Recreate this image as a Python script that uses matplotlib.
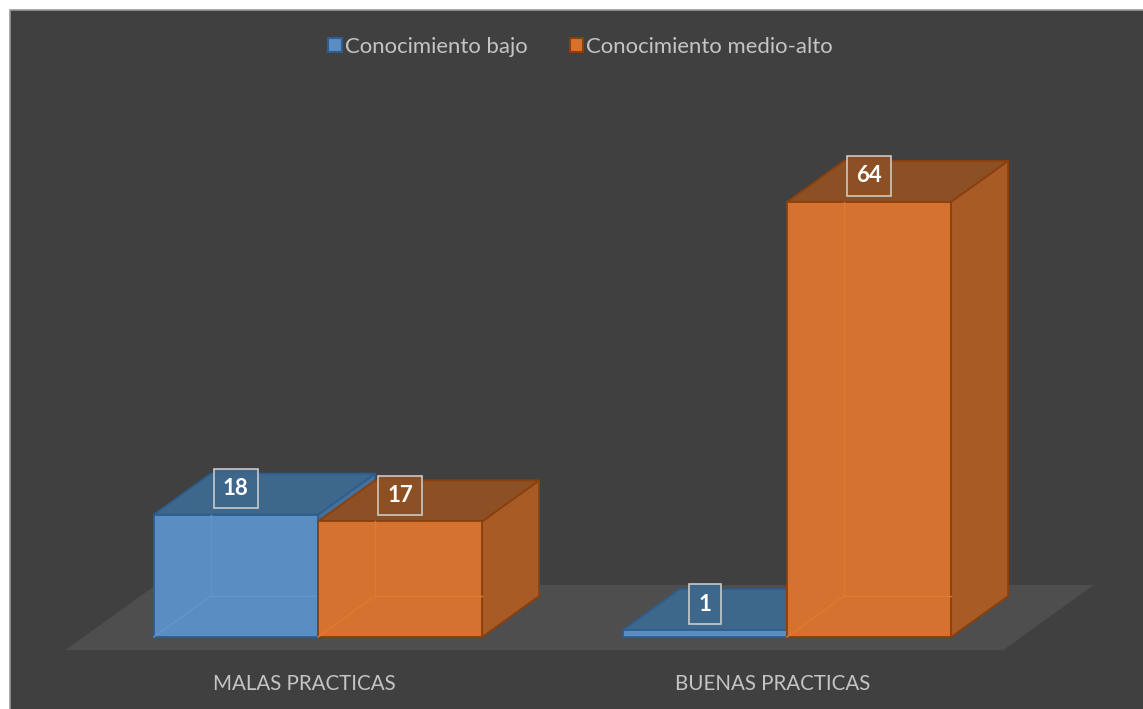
import matplotlib.pyplot as plt
from matplotlib.patches import Polygon, Rectangle, Patch

categories = ['MALAS PRACTICAS', 'BUENAS PRACTICAS']
series = ['Conocimiento bajo', 'Conocimiento medio-alto']
bajo = [18, 1]
medio_alto = [17, 64]
values = [bajo, medio_alto]

# estilo (colores de cara frontal, superior, lateral y borde)
front = ['#5a8dc1', '#d5722f']
top = ['#3e678c', '#8d4f24']
side = ['#46709a', '#a95b26']
edge = ['#2d5e8e', '#8a3f0d']
bg = '#404040'
floor_c = '#4e4e4e'
txt_c = '#c4c4c4'

plt.rcParams['font.family'] = ['Lato', 'DejaVu Sans']

fig = plt.figure(figsize=(11.43, 7.09), dpi=100)
fig.patch.set_facecolor('white')
fig.patches.append(Rectangle((10 / 1143, -0.05), 1.1, 699 / 709 + 0.05, transform=fig.transFigure,
                             facecolor=bg, edgecolor='#9a9a9a', lw=1.2, zorder=-5))

ax = fig.add_axes([0, 0, 1, 1])
ax.set_facecolor('none')
ax.axis('off')
ax.set_xlim(-318 / 469, 825 / 469)
ax.set_ylim(-72 / 6.8, 637 / 6.8)

bw = 0.35          # ancho de barra
ddx, ddy = 57 / 469, 41 / 6.8   # vector de profundidad

# piso
f0, f1 = -0.32, 1.27
fx0, fx1 = -0.5, 1.5
ax.add_patch(Polygon([(fx0 + f0 * ddx, f0 * ddy), (fx1 + f0 * ddx, f0 * ddy),
                      (fx1 + f1 * ddx, f1 * ddy), (fx0 + f1 * ddx, f1 * ddy)],
                     closed=True, facecolor=floor_c, edgecolor='none', zorder=1))


def bar3d(x0, h, k, z):
    x1 = x0 + bw
    ax.add_patch(Polygon([(x1, 0), (x1 + ddx, ddy), (x1 + ddx, h + ddy), (x1, h)],
                         facecolor=side[k], edgecolor=edge[k], lw=1.3, joinstyle='round', zorder=z))
    ax.add_patch(Polygon([(x0, h), (x1, h), (x1 + ddx, h + ddy), (x0 + ddx, h + ddy)],
                         facecolor=top[k], edgecolor=edge[k], lw=1.3, joinstyle='round', zorder=z))
    ax.add_patch(Polygon([(x0, 0), (x1, 0), (x1, h), (x0, h)],
                         facecolor=front[k], edgecolor=edge[k], lw=1.3, joinstyle='round', zorder=z))
    # aristas ocultas (transparencia)
    lighter = '#6597ca' if k == 0 else '#df7b36'
    hid = dict(color=lighter, lw=1.0, alpha=0.9, zorder=z + 0.1)
    if h > 3:
        ax.plot([x0 + ddx, x0 + ddx], [ddy, h], **hid)
        ax.plot([x0, x0 + ddx], [0, ddy], **hid)
        ax.plot([x0 + ddx, x1], [ddy, ddy], **hid)


for i, c in enumerate(categories):
    for k in range(2):
        x0 = i - bw if k == 0 else i
        bar3d(x0, values[k][i], k, 2 + i * 2 + k)

# etiquetas de datos
for i in range(len(categories)):
    for k in range(2):
        v = values[k][i]
        xc = (i - bw / 2) if k == 0 else (i + bw / 2)
        yc = v + 26 / 6.8
        ax.text(xc, yc, str(v), color='white', fontsize=16, fontweight='bold',
                ha='center', va='center', zorder=10,
                bbox=dict(boxstyle='square,pad=0.42', fc=top[k], ec='#d0d0d0', lw=1.2, alpha=0.95))

# etiquetas de categoria
for i, c in enumerate(categories):
    ax.text(i - 0.03, -47 / 6.8, c, color=txt_c, fontsize=14.8, ha='center', va='center', zorder=10)

handles = [Patch(facecolor=front[k], edgecolor=edge[k], lw=1.5) for k in range(2)]
ax.legend(handles, series, loc='center', bbox_to_anchor=(0.508, 1 - 47 / 709), ncol=2,
          frameon=False, fontsize=15.9, labelcolor=txt_c, handlelength=0.6, handleheight=0.6,
          handletextpad=0.15, columnspacing=1.9)

fig.savefig('out.png', dpi=100, facecolor=fig.get_facecolor())
